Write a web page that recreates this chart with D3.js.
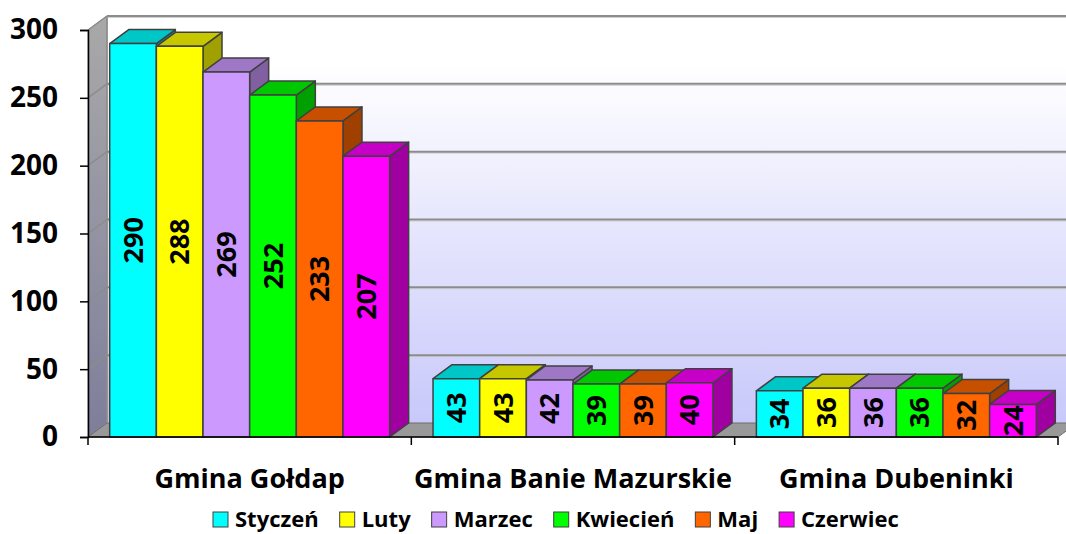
<!DOCTYPE html>
<html>
<head>
<meta charset="utf-8">
<script src="https://cdn.jsdelivr.net/npm/d3@7"></script>
<style>
  body { margin: 0; background: #ffffff; }
  svg { display: block; font-family: "Open Sans", sans-serif; }
</style>
</head>
<body>
<div id="chart"></div>
<script>
//categories and months
let categories = ["Gmina Gołdap", "Gmina Banie Mazurskie", "Gmina Dubeninki"];
let months = ["Styczeń", "Luty", "Marzec", "Kwiecień", "Maj", "Czerwiec"];
let monthColors = ["#00FFFF", "#FFFF00", "#CC99FF", "#00FF00", "#FF6600", "#FF00FF"];

//values per month (one per gmina)
let styczen = [290, 43, 34];
let luty = [288, 43, 36];
let marzec = [269, 42, 36];
let kwiecien = [252, 39, 36];
let maj = [233, 39, 32];
let czerwiec = [207, 40, 24];
let series = [styczen, luty, marzec, kwiecien, maj, czerwiec];

let yTicks = [0, 50, 100, 150, 200, 250, 300];

//svg size and plot frame
let svgWidth = 1066;
let svgHeight = 534;
let plot = { left: 88, right: 1058, top: 30, bottom: 437 };
let depth = { dx: 19, dy: -14 };

//scales
let x0 = d3.scaleBand().domain(categories).range([plot.left, plot.right]);
let x1 = d3.scaleBand().domain(months).range([21.7, x0.bandwidth() - 21.7]);
let y = d3.scaleLinear().domain([0, 300]).range([plot.bottom, plot.top]);

let svg = d3.select("#chart")
    .append("svg")
    .attr("width", svgWidth)
    .attr("height", svgHeight);

let defs = svg.append("defs");

//back wall gradient
let wallGrad = defs.append("linearGradient")
    .attr("id", "wallGrad")
    .attr("x1", 0).attr("y1", 0).attr("x2", 0).attr("y2", 1);
wallGrad.append("stop").attr("offset", "0%").attr("stop-color", "#ffffff");
wallGrad.append("stop").attr("offset", "12%").attr("stop-color", "#ffffff");
wallGrad.append("stop").attr("offset", "100%").attr("stop-color", "#c8c8fb");

//side wall gradient
let sideGrad = defs.append("linearGradient")
    .attr("id", "sideGrad")
    .attr("x1", 0).attr("y1", 0).attr("x2", 0).attr("y2", 1);
sideGrad.append("stop").attr("offset", "0%").attr("stop-color", "#a9a9a9");
sideGrad.append("stop").attr("offset", "100%").attr("stop-color", "#7e7e9c");

function poly(pts) {
    return "M" + pts.map(function(p) { return p[0] + "," + p[1]; }).join("L") + "Z";
}

//back wall
svg.append("path")
    .attr("d", poly([[plot.left + depth.dx, y(300) + depth.dy], [plot.right + depth.dx, y(300) + depth.dy],
                     [plot.right + depth.dx, y(0) + depth.dy], [plot.left + depth.dx, y(0) + depth.dy]]))
    .attr("fill", "url(#wallGrad)");

//side wall
svg.append("path")
    .attr("d", poly([[plot.left, y(300)], [plot.left + depth.dx, y(300) + depth.dy],
                     [plot.left + depth.dx, y(0) + depth.dy], [plot.left, y(0)]]))
    .attr("fill", "url(#sideGrad)")
    .attr("stroke", "#8a8a8a")
    .attr("stroke-width", 1);

//floor
svg.append("path")
    .attr("d", poly([[plot.left, y(0)], [plot.left + depth.dx, y(0) + depth.dy],
                     [plot.right + depth.dx, y(0) + depth.dy], [plot.right, y(0)]]))
    .attr("fill", "#999999")
    .attr("stroke", "#6e6e6e")
    .attr("stroke-width", 1);

//gridlines on the walls
yTicks.filter(function(d) { return d > 0; }).forEach(function(t) {
    svg.append("line")
        .attr("x1", plot.left + depth.dx).attr("x2", plot.right + depth.dx)
        .attr("y1", y(t) + depth.dy + 1.5).attr("y2", y(t) + depth.dy + 1.5)
        .attr("stroke", "#d0d0d0").attr("stroke-width", 1);
    svg.append("line")
        .attr("x1", plot.left + depth.dx).attr("x2", plot.right + depth.dx)
        .attr("y1", y(t) + depth.dy).attr("y2", y(t) + depth.dy)
        .attr("stroke", "#8c8c8c").attr("stroke-width", 2);
    svg.append("line")
        .attr("x1", plot.left).attr("x2", plot.left + depth.dx)
        .attr("y1", y(t)).attr("y2", y(t) + depth.dy)
        .attr("stroke", "#8c8c8c").attr("stroke-width", 1.5);
});

//back wall left edge
svg.append("line")
    .attr("x1", plot.left + depth.dx).attr("x2", plot.left + depth.dx)
    .attr("y1", y(300) + depth.dy).attr("y2", y(0) + depth.dy)
    .attr("stroke", "#8c8c8c").attr("stroke-width", 1.5);

//bars, drawn from left to right so each front face covers the previous side face
categories.forEach(function(cat, ci) {
    months.forEach(function(m, mi) {
        let v = series[mi][ci];
        let xl = x0(cat) + x1(m);
        let xr = xl + x1.bandwidth();
        let yt = y(v);
        let yb = y(0);
        let base = d3.color(monthColors[mi]);
        let g = svg.append("g")
            .attr("stroke", "#404040")
            .attr("stroke-width", 1.5)
            .attr("stroke-linejoin", "round");

        //side face
        g.append("path")
            .attr("d", poly([[xr, yt], [xr + depth.dx, yt + depth.dy], [xr + depth.dx, yb + depth.dy], [xr, yb]]))
            .attr("fill", base.darker(1.3));
        //top face
        g.append("path")
            .attr("d", poly([[xl, yt], [xl + depth.dx, yt + depth.dy], [xr + depth.dx, yt + depth.dy], [xr, yt]]))
            .attr("fill", base.darker(0.7));
        //front face
        g.append("rect")
            .attr("x", xl).attr("y", yt)
            .attr("width", x1.bandwidth()).attr("height", yb - yt)
            .attr("fill", monthColors[mi]);

        //value label
        svg.append("text")
            .attr("transform", "translate(" + ((xl + xr) / 2) + "," + ((yt + yb) / 2) + ") rotate(-90)")
            .attr("text-anchor", "middle")
            .attr("dy", "0.36em")
            .style("font-size", "27px")
            .style("font-weight", "bold")
            .attr("fill", "#000")
            .text(v);
    });
});

//y axis
let yAxis = d3.axisLeft(y).tickValues(yTicks).tickSize(8).tickPadding(22);
let yG = svg.append("g")
    .attr("transform", "translate(" + plot.left + ",0)")
    .call(yAxis);
yG.select(".domain").attr("stroke", "#000").attr("stroke-width", 1.5);
yG.selectAll(".tick line").attr("stroke", "#000").attr("stroke-width", 1.5);
yG.selectAll(".tick text")
    .style("font-family", "'Open Sans', sans-serif")
    .style("font-size", "28px")
    .style("font-weight", "bold")
    .attr("fill", "#000");

//x axis line with ticks at band edges
svg.append("line")
    .attr("x1", plot.left).attr("x2", plot.right)
    .attr("y1", plot.bottom).attr("y2", plot.bottom)
    .attr("stroke", "#000").attr("stroke-width", 1.5);
let edges = categories.map(function(c) { return x0(c); }).concat([plot.right]);
svg.selectAll("line.xtick")
    .data(edges)
    .enter()
    .append("line")
    .attr("class", "xtick")
    .attr("x1", function(d) { return d; }).attr("x2", function(d) { return d; })
    .attr("y1", plot.bottom).attr("y2", plot.bottom + 8)
    .attr("stroke", "#000").attr("stroke-width", 1.5);

//category labels
svg.selectAll("text.cat")
    .data(categories)
    .enter()
    .append("text")
    .attr("class", "cat")
    .attr("x", function(d) { return x0(d) + x0.bandwidth() / 2; })
    .attr("y", 488)
    .attr("text-anchor", "middle")
    .style("font-size", "27px")
    .style("font-weight", "bold")
    .text(function(d) { return d; });

//legend
let lx = 213;
months.forEach(function(m, i) {
    svg.append("rect")
        .attr("x", lx).attr("y", 512)
        .attr("width", 15).attr("height", 15)
        .attr("fill", monthColors[i])
        .attr("stroke", "#404040")
        .attr("stroke-width", 1);
    let t = svg.append("text")
        .attr("x", lx + 22).attr("y", 527)
        .style("font-size", "22px")
        .style("font-weight", "bold")
        .text(m);
    lx += 22 + t.node().getComputedTextLength() + 21;
});
</script>
</body>
</html>
